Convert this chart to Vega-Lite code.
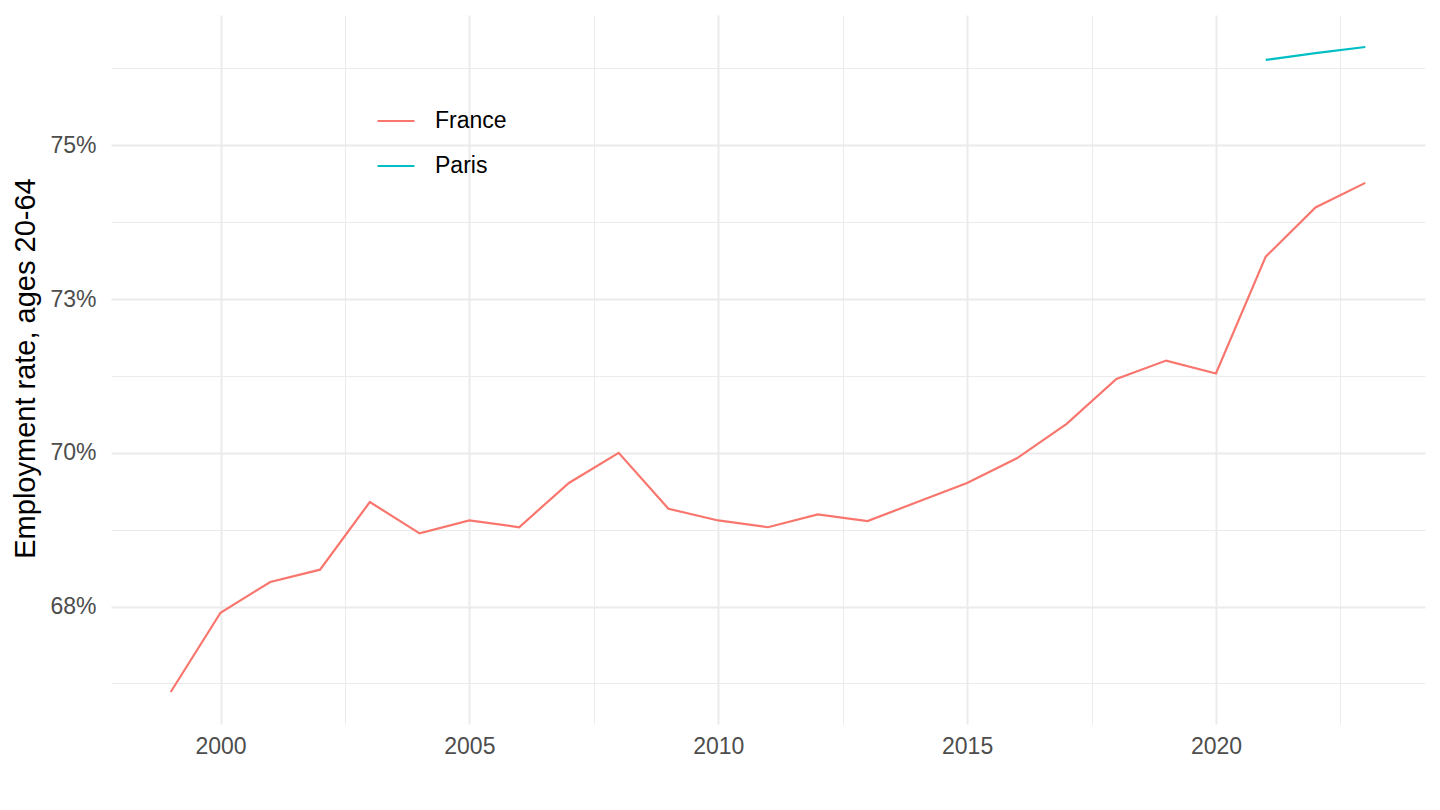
{
  "$schema": "https://vega.github.io/schema/vega-lite/v6.json",
  "width": 1314,
  "height": 709,
  "autosize": {"type": "none"},
  "padding": {"left": 111, "top": 15, "right": 15, "bottom": 86},
  "background": "white",
  "data": {
    "values": [
      {"year": 1999, "series": "France", "rate": 66.11},
      {"year": 2000, "series": "France", "rate": 67.40},
      {"year": 2001, "series": "France", "rate": 67.90},
      {"year": 2002, "series": "France", "rate": 68.10},
      {"year": 2003, "series": "France", "rate": 69.20},
      {"year": 2004, "series": "France", "rate": 68.69},
      {"year": 2005, "series": "France", "rate": 68.90},
      {"year": 2006, "series": "France", "rate": 68.79},
      {"year": 2007, "series": "France", "rate": 69.51},
      {"year": 2008, "series": "France", "rate": 70.00},
      {"year": 2009, "series": "France", "rate": 69.09},
      {"year": 2010, "series": "France", "rate": 68.90},
      {"year": 2011, "series": "France", "rate": 68.79},
      {"year": 2012, "series": "France", "rate": 69.00},
      {"year": 2013, "series": "France", "rate": 68.89},
      {"year": 2014, "series": "France", "rate": 69.20},
      {"year": 2015, "series": "France", "rate": 69.51},
      {"year": 2016, "series": "France", "rate": 69.91},
      {"year": 2017, "series": "France", "rate": 70.47},
      {"year": 2018, "series": "France", "rate": 71.20},
      {"year": 2019, "series": "France", "rate": 71.50},
      {"year": 2020, "series": "France", "rate": 71.29},
      {"year": 2021, "series": "France", "rate": 73.19},
      {"year": 2022, "series": "France", "rate": 73.99},
      {"year": 2023, "series": "France", "rate": 74.39},
      {"year": 2021, "series": "Paris", "rate": 76.39},
      {"year": 2022, "series": "Paris", "rate": 76.50},
      {"year": 2023, "series": "Paris", "rate": 76.60}
    ]
  },
  "mark": {"type": "line", "strokeWidth": 2.2},
  "encoding": {
    "x": {
      "field": "year",
      "type": "quantitative",
      "scale": {"domain": [1997.8, 2024.2], "nice": false, "zero": false},
      "axis": {
        "title": null,
        "values": [2000, 2002.5, 2005, 2007.5, 2010, 2012.5, 2015, 2017.5, 2020, 2022.5],
        "labelExpr": "datum.value % 5 == 0 ? '' + datum.value : ''",
        "grid": true,
        "gridColor": "#EBEBEB",
        "gridWidth": {"condition": {"test": "datum.value % 5 == 0", "value": 2}, "value": 1},
        "ticks": false,
        "domain": false,
        "labelFont": "Liberation Sans",
        "labelFontSize": 23,
        "labelColor": "#4D4D4D",
        "labelPadding": 11,
        "labelFlush": false,
        "labelOverlap": false
      }
    },
    "y": {
      "field": "rate",
      "type": "quantitative",
      "scale": {"domain": [65.59, 77.12], "nice": false, "zero": false},
      "axis": {
        "title": "Employment rate, ages 20-64",
        "values": [66.25, 67.5, 68.75, 70, 71.25, 72.5, 73.75, 75, 76.25],
        "labelExpr": "datum.value % 2.5 == 0 ? round(datum.value) + '%' : ''",
        "grid": true,
        "gridColor": "#EBEBEB",
        "gridWidth": {"condition": {"test": "datum.value % 2.5 == 0", "value": 2}, "value": 1},
        "ticks": false,
        "domain": false,
        "labelFont": "Liberation Sans",
        "labelFontSize": 23,
        "labelColor": "#4D4D4D",
        "labelPadding": 15,
        "labelOverlap": false,
        "titleFont": "Liberation Sans",
        "titleFontSize": 29,
        "titleFontWeight": "normal",
        "titleColor": "black",
        "titleX": -86,
        "titleY": 353,
        "titleBaseline": "middle"
      }
    },
    "color": {
      "field": "series",
      "type": "nominal",
      "scale": {"domain": ["France", "Paris"], "range": ["#F8766D", "#00BFC4"]},
      "legend": {
        "title": null,
        "orient": "none",
        "legendX": 265,
        "legendY": 86,
        "padding": 0,
        "symbolType": "stroke",
        "symbolSize": 1369,
        "symbolStrokeWidth": 2.2,
        "rowPadding": 13,
        "labelOffset": 19,
        "labelFont": "Liberation Sans",
        "labelFontSize": 23,
        "labelColor": "black"
      }
    }
  },
  "config": {
    "view": {"stroke": null},
    "font": "Liberation Sans"
  }
}
